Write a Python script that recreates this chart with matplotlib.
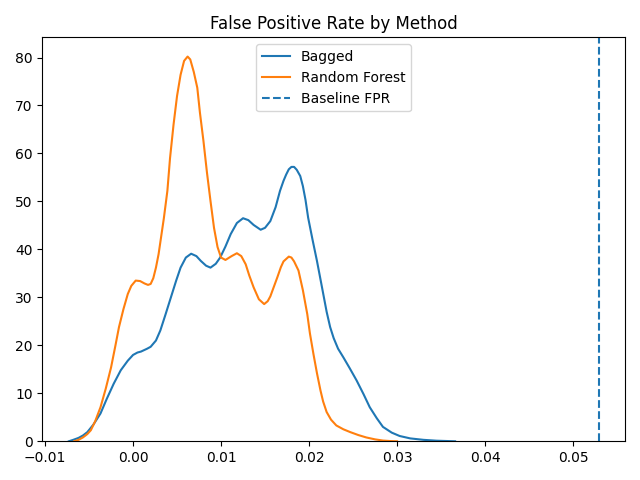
import matplotlib
matplotlib.use("Agg")
from matplotlib import pyplot as plt

# density curves
bagged_x = [
    -0.0073, -0.0068, -0.0062, -0.0057, -0.0052, -0.0045, -0.0037, -0.0030,
    -0.0022, -0.0014, -0.0006, 0.0000, 0.0005, 0.0009, 0.0016, 0.0020,
    0.0026, 0.0031, 0.0037, 0.0043, 0.0049, 0.0054, 0.0060, 0.0066,
    0.0072, 0.0077, 0.0083, 0.0088, 0.0094, 0.0099, 0.0105, 0.0111,
    0.0118, 0.0125, 0.0131, 0.0137, 0.0145, 0.0150, 0.0156, 0.0162,
    0.0167, 0.0171, 0.0174, 0.0177, 0.0180, 0.0183, 0.0186, 0.0190,
    0.0193, 0.0196, 0.0199, 0.0204, 0.0209, 0.0214, 0.0220, 0.0224,
    0.0228, 0.0233, 0.0239, 0.0246, 0.0254, 0.0262, 0.0269, 0.0277,
    0.0284, 0.0294, 0.0303, 0.0315, 0.0330, 0.0345, 0.0366,
]
bagged_y = [
    0.0, 0.3, 0.7, 1.2, 1.9, 3.5, 5.8, 8.8,
    12.0, 14.8, 16.8, 18.0, 18.5, 18.7, 19.3, 19.7,
    21.0, 23.1, 26.5, 30.0, 33.5, 36.2, 38.3, 39.1,
    38.6, 37.6, 36.6, 36.2, 37.0, 38.3, 40.6, 43.2,
    45.5, 46.5, 46.1, 45.1, 44.1, 44.5, 45.9, 48.8,
    52.2, 54.3, 55.6, 56.7, 57.2, 57.2, 56.6, 55.3,
    53.2, 50.3, 46.6, 42.0, 37.6, 32.8, 27.0, 23.8,
    21.5, 19.3, 17.5, 15.3, 12.7, 9.8, 7.1, 4.8,
    3.0, 1.8, 1.1, 0.6, 0.3, 0.12, 0.0,
]

forest_x = [
    -0.0067, -0.0062, -0.0057, -0.0052, -0.0048, -0.0043, -0.0037, -0.0031,
    -0.0025, -0.0020, -0.0016, -0.0011, -0.0006, -0.0002, 0.0003, 0.0008,
    0.0013, 0.0017, 0.0020, 0.0023, 0.0026, 0.0029, 0.0031, 0.0035,
    0.0039, 0.0042, 0.0046, 0.0050, 0.0054, 0.0058, 0.0062, 0.0065,
    0.0069, 0.0073, 0.0076, 0.0080, 0.0084, 0.0088, 0.0092, 0.0096,
    0.0100, 0.0105, 0.0112, 0.0118, 0.0123, 0.0128, 0.0132, 0.0137,
    0.0143, 0.0149, 0.0153, 0.0156, 0.0160, 0.0164, 0.0168, 0.0171,
    0.0177, 0.0180, 0.0183, 0.0188, 0.0193, 0.0198, 0.0201, 0.0205,
    0.0209, 0.0213, 0.0216, 0.0220, 0.0225, 0.0231, 0.0239, 0.0247,
    0.0256, 0.0265, 0.0275, 0.0284, 0.0292, 0.0300,
]
forest_y = [
    0.0, 0.3, 0.8, 1.5, 2.3, 4.2, 7.1, 11.0,
    15.4, 20.0, 23.8, 27.5, 30.7, 32.4, 33.5, 33.4,
    32.9, 32.6, 32.8, 34.0, 36.2, 39.0, 41.5, 46.5,
    52.2, 59.0, 66.0, 72.0, 76.4, 79.3, 80.2, 79.6,
    77.0, 73.7, 68.5, 62.6, 56.0, 50.1, 44.5, 40.5,
    38.3, 37.8, 38.6, 39.2, 38.6, 36.9, 34.6, 32.1,
    29.6, 28.6, 29.2, 30.2, 32.2, 34.2, 36.3, 37.5,
    38.5, 38.3, 37.5, 35.6, 31.5, 26.5, 22.5, 18.2,
    14.2, 10.6, 8.3, 6.1, 4.5, 3.3, 2.5, 1.9,
    1.3, 0.8, 0.4, 0.15, 0.05, 0.0,
]

baseline_fpr = 0.0529

fig, ax = plt.subplots(figsize=(6.4, 4.8), dpi=100)
ax.plot(bagged_x, bagged_y, color="#1f77b4", lw=1.5, label="Bagged")
ax.plot(forest_x, forest_y, color="#ff7f0e", lw=1.5, label="Random Forest")
ax.axvline(baseline_fpr, color="#1f77b4", ls="--", lw=1.5, label="Baseline FPR")
ax.set_ylim(bottom=0)
ax.set_title("False Positive Rate by Method")
ax.legend(loc="upper center")
fig.tight_layout()
fig.savefig("out.png", dpi=100)
